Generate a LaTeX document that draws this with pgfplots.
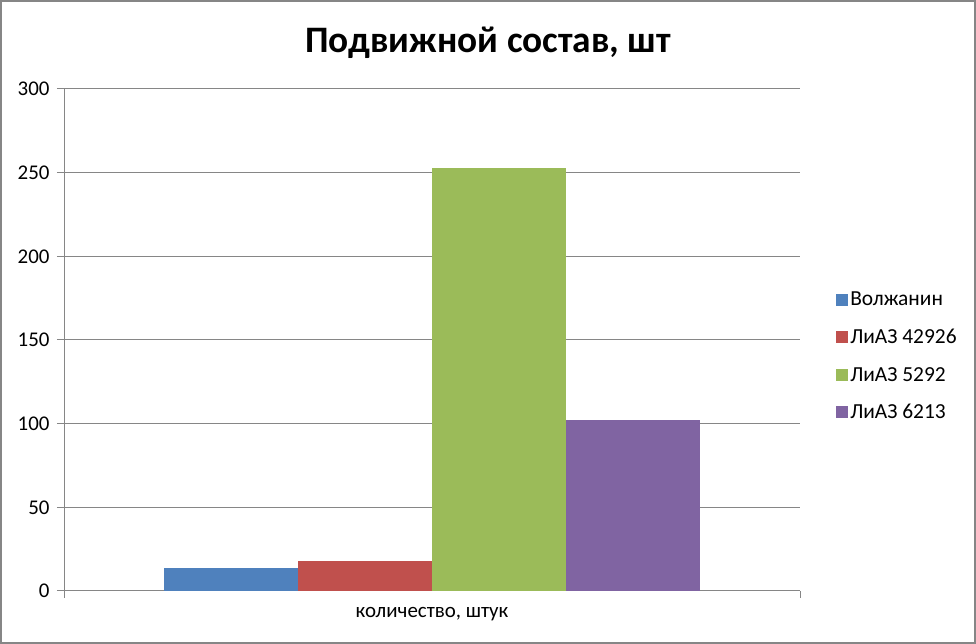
\documentclass[border=0pt]{standalone}
\usepackage{pgfplots}
\pgfplotsset{compat=1.18}
\usepackage{fontspec}
\setmainfont{Carlito}
\definecolor{cBlue}{HTML}{4F81BD}
\definecolor{cRed}{HTML}{C0504D}
\definecolor{cGreen}{HTML}{9BBB59}
\definecolor{cPurple}{HTML}{8064A2}
\definecolor{axgray}{HTML}{868686}

\begin{document}
\begin{tikzpicture}[x=1bp,y=1bp]
\path[use as bounding box] (0,0) rectangle (976,644);
\draw[axgray, line width=2bp] (1,1) rectangle (975,643);
\node[font=\fontsize{37.5}{40}\selectfont\bfseries] at (488,601) {Подвижной состав, шт};
\begin{axis}[
    at={(64bp,53bp)}, anchor=south west,
    scale only axis, width=736bp, height=502bp,
    xmin=-1, xmax=1, ymin=0, ymax=300,
    ybar=0pt, bar width=0.3641,
    axis x line*=bottom, axis y line*=left,
    axis line style={axgray, line width=1bp},
    ytick={0,50,...,300},
    ymajorgrids, major grid style={axgray, line width=1bp},
    tick style={axgray, line width=1bp},
    tick align=outside, major tick length=7bp,
    xtick={0}, xticklabels={количество{,} штук},
    x tick style={draw=none},
    extra x ticks={-1,1}, extra x tick labels={},
    extra x tick style={x tick style={draw=axgray}, xmajorgrids=false},
    /pgf/number format/assume math mode=true,
    ticklabel style={font=\fontsize{21}{24}\selectfont, text=black},
    yticklabel style={anchor=east, xshift=-4bp},
    xticklabel style={yshift=-6bp},
    legend style={at={(1.045,0.604)}, anchor=north west, draw=none,
        font=\fontsize{21.5}{24}\selectfont, row sep=18bp, fill=none},
    legend cell align=left,
    legend image code/.code={\fill[#1] (0bp,-6bp) rectangle (12bp,6bp);},
]
\addplot[fill=cBlue, draw=none] coordinates {(0,14)};
\addplot[fill=cRed, draw=none] coordinates {(0,18)};
\addplot[fill=cGreen, draw=none] coordinates {(0,253)};
\addplot[fill=cPurple, draw=none] coordinates {(0,102)};
\legend{Волжанин, ЛиАЗ 42926, ЛиАЗ 5292, ЛиАЗ 6213}
\end{axis}
\end{tikzpicture}
\end{document}
